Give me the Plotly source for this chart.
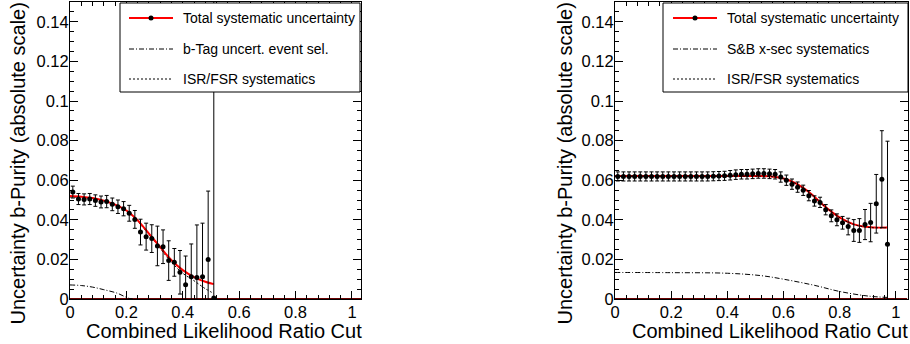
import plotly.graph_objects as go

# ---------------- data ----------------
# Left panel: b-Tag study
left_x = [0.01, 0.03, 0.05, 0.07, 0.09, 0.11, 0.13, 0.15, 0.17, 0.19, 0.21, 0.23, 0.25,
          0.27, 0.29, 0.31, 0.33, 0.35, 0.37, 0.39, 0.41, 0.43, 0.45, 0.47, 0.49, 0.51]
left_y = [0.0540, 0.0505, 0.0503, 0.0505, 0.0497, 0.0490, 0.0492, 0.0478, 0.0466, 0.0456,
          0.0433, 0.0402, 0.0338, 0.0315, 0.0305, 0.0268, 0.0264, 0.0194, 0.0185, 0.0135,
          0.0072, 0.0113, 0.0109, 0.0113, 0.0200, 0.0005]
left_err = [0.0030, 0.0028, 0.0028, 0.0028, 0.0029, 0.0030, 0.0031, 0.0032, 0.0034, 0.0036,
            0.0040, 0.0045, 0.0065, 0.0068, 0.0070, 0.0100, 0.0085, 0.0100, 0.0070, 0.0110,
            0.0145, 0.0165, 0.0265, 0.0270, 0.0345, 0.2000]
left_fit_x = [0.0, 0.04, 0.08, 0.12, 0.16, 0.20, 0.24, 0.28, 0.32, 0.36, 0.40, 0.44, 0.48, 0.51]
left_fit_y = [0.0520, 0.0517, 0.0510, 0.0497, 0.0477, 0.0447, 0.0397, 0.0330, 0.0262, 0.0196,
              0.0146, 0.0111, 0.0087, 0.0075]
left_btag_x = [0.0, 0.04, 0.08, 0.12, 0.166, 0.21, 0.23]
left_btag_y = [0.0071, 0.0068, 0.0060, 0.0047, 0.0030, 0.0003, 0.0]
left_isr_x = [0.0, 0.10, 0.20, 0.28, 0.32, 0.36, 0.40, 0.44, 0.48, 0.51]
left_isr_y = [0.0515, 0.0503, 0.0445, 0.0326, 0.0255, 0.0185, 0.0130, 0.0092, 0.0052, 0.0028]

# Right panel: S&B x-sec study
right_x = [0.01, 0.03, 0.05, 0.07, 0.09, 0.11, 0.13, 0.15, 0.17, 0.19, 0.21, 0.23, 0.25,
           0.27, 0.29, 0.31, 0.33, 0.35, 0.37, 0.39, 0.41, 0.43, 0.45, 0.47, 0.49, 0.51,
           0.53, 0.55, 0.57, 0.59, 0.61, 0.63, 0.65, 0.67, 0.69, 0.71, 0.73, 0.75, 0.77,
           0.79, 0.81, 0.83, 0.85, 0.87, 0.89, 0.91, 0.93, 0.95, 0.97]
right_y = [0.0619, 0.0619, 0.0619, 0.0619, 0.0619, 0.0619, 0.0619, 0.0619, 0.0619, 0.0619,
           0.0619, 0.0619, 0.0619, 0.0619, 0.0619, 0.0619, 0.0619, 0.0620, 0.0621, 0.0622,
           0.0625, 0.0628, 0.0630, 0.0630, 0.0632, 0.0634, 0.0634, 0.0632, 0.0630, 0.0616,
           0.0600, 0.0580, 0.0565, 0.0549, 0.0522, 0.0495, 0.0488, 0.0451, 0.0420, 0.0400,
           0.0385, 0.0366, 0.0346, 0.0346, 0.0376, 0.0386, 0.0481, 0.0605, 0.0277]
right_err = [0.0023] * 20 + [0.0024] * 9 + [0.0026] * 9 + [0.0030, 0.0030, 0.0032,
             0.0042, 0.0055, 0.0060, 0.0076, 0.0097, 0.0148, 0.0245, 0.0520]
right_fit_x = [0.0, 0.10, 0.20, 0.30, 0.40, 0.50, 0.55, 0.60, 0.635, 0.67, 0.705, 0.74,
               0.777, 0.81, 0.848, 0.884, 0.92, 0.97]
right_fit_y = [0.0621, 0.0621, 0.0621, 0.0621, 0.0621, 0.0621, 0.0620, 0.0609, 0.0590,
               0.0561, 0.0523, 0.0476, 0.0434, 0.0403, 0.0378, 0.0366, 0.0361, 0.0361]
right_sb_x = [0.0, 0.2, 0.4, 0.52, 0.6, 0.71, 0.8, 0.9, 0.97]
right_sb_y = [0.0134, 0.0133, 0.0130, 0.0118, 0.0100, 0.0069, 0.0038, 0.0015, 0.0008]
right_isr_x = right_fit_x
right_isr_y = [0.0620, 0.0620, 0.0620, 0.0620, 0.0620, 0.0620, 0.0619, 0.0608, 0.0589,
               0.0560, 0.0522, 0.0475, 0.0433, 0.0402, 0.0377, 0.0365, 0.0360, 0.0360]

zero_x = [0.0, 1.04]
zero_y = [0.0, 0.0]

y_tickvals = [0, 0.02, 0.04, 0.06, 0.08, 0.1, 0.12, 0.14]
y_ticktext = ["0", "0.02", "0.04", "0.06", "0.08", "0.1", "0.12", "0.14"]
x_tickvals = [0, 0.2, 0.4, 0.6, 0.8, 1.0]
x_ticktext = ["0", "0.2", "0.4", "0.6", "0.8", "1"]

x_title = "Combined Likelihood Ratio Cut"
y_title = "Uncertainty b-Purity (absolute scale)"
legend_left = ["Total systematic uncertainty", "b-Tag uncert. event sel.", "ISR/FSR systematics"]
legend_right = ["Total systematic uncertainty", "S&B x-sec systematics", "ISR/FSR systematics"]

# ---------------- figure ----------------
FONT = "Liberation Sans, Arial, Helvetica, sans-serif"
W, H = 910, 344
ML, MR, MT, MB = 70, 2, 2, 45
PW, PH = W - ML - MR, H - MT - MB

def px(xp):
    return (xp - ML) / PW

def py(yp):
    return (H - MB - yp) / PH

DASHDOT = "5px,2px,1px,2px"
DOT = "2px,2px"

fig = go.Figure()

def add_panel(xa, ya, isr_x, isr_y, other_x, other_y, fit_x, fit_y, px_, py_, err, isr_on_top):
    fig.add_trace(go.Scatter(x=zero_x, y=zero_y, mode="lines", xaxis=xa, yaxis=ya,
                             line=dict(color="#6a0000", width=2), cliponaxis=False,
                             showlegend=False, hoverinfo="skip"))
    fig.add_trace(go.Scatter(x=other_x, y=other_y, mode="lines", xaxis=xa, yaxis=ya,
                             line=dict(color="black", width=1, dash=DASHDOT, shape="spline"),
                             showlegend=False))
    if not isr_on_top:
        fig.add_trace(go.Scatter(x=isr_x, y=isr_y, mode="lines", xaxis=xa, yaxis=ya,
                                 line=dict(color="black", width=1, dash=DOT, shape="spline"),
                                 showlegend=False))
    fig.add_trace(go.Scatter(x=fit_x, y=fit_y, mode="lines", xaxis=xa, yaxis=ya,
                             line=dict(color="#ff0000", width=2, shape="spline"),
                             showlegend=False))
    if isr_on_top:
        fig.add_trace(go.Scatter(x=isr_x, y=isr_y, mode="lines", xaxis=xa, yaxis=ya,
                                 line=dict(color="black", width=1, dash=DOT, shape="spline"),
                                 showlegend=False))
    fig.add_trace(go.Scatter(x=px_, y=py_, mode="markers", xaxis=xa, yaxis=ya,
                             marker=dict(color="black", size=5),
                             error_y=dict(type="data", array=err, color="black",
                                          thickness=1, width=2),
                             showlegend=False))

add_panel("x", "y", left_isr_x, left_isr_y, left_btag_x, left_btag_y,
          left_fit_x, left_fit_y, left_x, left_y, left_err, False)
add_panel("x2", "y2", right_isr_x, right_isr_y, right_sb_x, right_sb_y,
          right_fit_x, right_fit_y, right_x, right_y, right_err, True)

axis_common = dict(showline=True, linecolor="black", linewidth=1, mirror="allticks",
                   ticks="inside", ticklen=8, tickcolor="black", tickwidth=1,
                   showgrid=False, zeroline=False, automargin=False,
                   tickfont=dict(family=FONT, size=16.5, color="black"))

fig.update_layout(
    width=W, height=H, margin=dict(l=ML, r=MR, t=MT, b=MB, autoexpand=False),
    paper_bgcolor="white", plot_bgcolor="white", showlegend=False,
    xaxis=dict(domain=[0, px(361)], range=[0, 1.032], tickvals=x_tickvals, ticktext=x_ticktext,
               minor=dict(dtick=0.04, ticks="inside", ticklen=4, tickcolor="black"),
               anchor="y", ticklabelstandoff=-2, **axis_common),
    yaxis=dict(domain=[0, 1], range=[0, 0.15], tickvals=y_tickvals, ticktext=y_ticktext,
               minor=dict(dtick=0.005, ticks="inside", ticklen=4, tickcolor="black"),
               anchor="x", ticklabelstandoff=-3, **axis_common),
    xaxis2=dict(domain=[px(615), 1.0], range=[0, 1.043], tickvals=x_tickvals, ticktext=x_ticktext,
                minor=dict(dtick=0.04, ticks="inside", ticklen=4, tickcolor="black"),
                anchor="y2", ticklabelstandoff=-2, **axis_common),
    yaxis2=dict(domain=[0, 1], range=[0, 0.15], tickvals=y_tickvals, ticktext=y_ticktext,
                minor=dict(dtick=0.005, ticks="inside", ticklen=4, tickcolor="black"),
                anchor="x2", ticklabelstandoff=-3, **axis_common),
)

# axis titles, aligned ROOT-style to the far end of each axis
title_font = dict(family=FONT, size=20, color="black")
for x_end, y_center in [(363, 17.5), (909, 564.5)]:
    fig.add_annotation(xref="paper", yref="paper", x=px(x_end), y=py(331), text=x_title,
                       showarrow=False, xanchor="right", yanchor="middle", font=title_font,
                       borderpad=0)
    fig.add_annotation(xref="paper", yref="paper", x=px(y_center), y=py(2), text=y_title,
                       showarrow=False, xanchor="center", yanchor="top", textangle=-90,
                       font=title_font, borderpad=0)

# ---------------- legends (drawn as boxes above the data) ----------------
def add_legend(x0, x1, y0, y1, line_x0, line_x1, text_x, labels):
    fig.add_shape(type="rect", xref="paper", yref="paper", x0=px(x0), x1=px(x1),
                  y0=py(y1), y1=py(y0), fillcolor="white", line=dict(color="black", width=1),
                  layer="above")
    rows = [18, 49, 79]
    styles = [dict(color="#ff0000", width=2), dict(color="black", width=1, dash=DASHDOT),
              dict(color="black", width=1, dash=DOT)]
    for r, st, lab in zip(rows, styles, labels):
        fig.add_shape(type="line", xref="paper", yref="paper", x0=px(line_x0), x1=px(line_x1),
                      y0=py(r), y1=py(r), line=st, layer="above")
        fig.add_annotation(xref="paper", yref="paper", x=px(text_x), y=py(r), text=lab,
                           showarrow=False, xanchor="left", yanchor="middle",
                           font=dict(family=FONT, size=14, color="black"))
    cx = (line_x0 + line_x1) / 2
    fig.add_shape(type="circle", xref="paper", yref="paper", x0=px(cx - 2.5), x1=px(cx + 2.5),
                  y0=py(rows[0] + 2.5), y1=py(rows[0] - 2.5), fillcolor="black",
                  line=dict(color="black", width=0), layer="above")

add_legend(120, 360, 3, 92, 129, 173, 181, legend_left)
add_legend(663, 908, 3, 92, 673, 717, 725, legend_right)

# the page's default body margin would shift the whole figure by 8 px
fig.write_html("out.html", config={"displayModeBar": False},
               post_script="document.body.style.margin='0';")
